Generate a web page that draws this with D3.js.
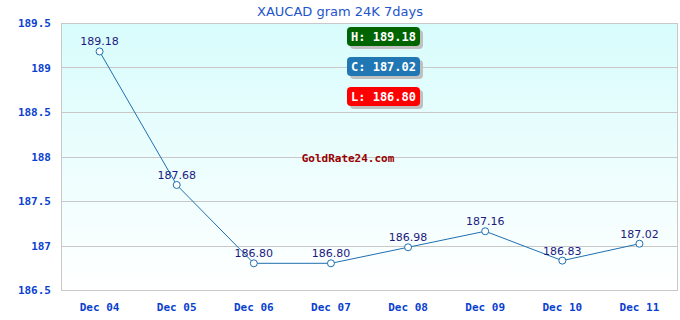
<!DOCTYPE html>
<html>
<head>
<meta charset="utf-8">
<script src="https://cdn.jsdelivr.net/npm/d3@7"></script>
<style>
  body { margin: 0; background: #fff; }
  .tick text { font-family: "DejaVu Sans Mono", monospace; font-weight: bold; font-size: 11px; fill: #0a3fd0; }
</style>
</head>
<body>
<svg id="chart" width="680" height="320"></svg>
<script>
(function () {
  // chart data
  var days = ["Dec 04", "Dec 05", "Dec 06", "Dec 07", "Dec 08", "Dec 09", "Dec 10", "Dec 11"];
  var prices = [189.18, 187.68, 186.80, 186.80, 186.98, 187.16, 186.83, 187.02];
  var yTicks = [186.5, 187, 187.5, 188, 188.5, 189, 189.5];
  var badges = [
    {label: "H: 189.18", color: "#006400"},
    {label: "C: 187.02", color: "#2077b4"},
    {label: "L: 186.80", color: "#ff0000"}
  ];

  var svg = d3.select("#chart");
  var margin = {top: 23, right: 2, bottom: 30, left: 61};
  var width = +svg.attr("width") - margin.left - margin.right;
  var height = +svg.attr("height") - margin.top - margin.bottom;

  var defs = svg.append("defs");
  var grad = defs.append("linearGradient")
    .attr("id", "bg").attr("x1", 0).attr("y1", 0).attr("x2", 0).attr("y2", 1);
  grad.append("stop").attr("offset", "0%").attr("stop-color", "#d8fcfc");
  grad.append("stop").attr("offset", "100%").attr("stop-color", "#ffffff");

  svg.append("text")
    .attr("x", 340).attr("y", 16)
    .attr("text-anchor", "middle")
    .style("font-family", "DejaVu Sans, sans-serif")
    .style("font-size", "13px")
    .style("fill", "#2255cc")
    .text("XAUCAD gram 24K 7days");

  var g = svg.append("g")
    .attr("transform", "translate(" + margin.left + "," + margin.top + ")");

  var x = d3.scaleBand().domain(days).range([0, width]);
  var y = d3.scaleLinear().domain([186.5, 189.5]).range([height, 0]);

  g.append("rect")
    .attr("width", width).attr("height", height)
    .attr("fill", "url(#bg)");

  // grid lines
  g.selectAll(".grid")
    .data(yTicks)
    .enter().append("line")
    .attr("x1", 0).attr("x2", width)
    .attr("y1", function(d) { return Math.round(y(d)) + 0.5; })
    .attr("y2", function(d) { return Math.round(y(d)) + 0.5; })
    .attr("stroke", "#c8c8c8");

  g.append("line").attr("x1", 0.5).attr("x2", 0.5).attr("y1", 0).attr("y2", height).attr("stroke", "#c8c8c8");
  g.append("line").attr("x1", width - 0.5).attr("x2", width - 0.5).attr("y1", 0).attr("y2", height).attr("stroke", "#c8c8c8");

  var yAxis = g.append("g")
    .call(d3.axisLeft(y).tickValues(yTicks).tickSize(0).tickPadding(10).tickFormat(d3.format("")));
  yAxis.select(".domain").remove();

  var xAxis = g.append("g")
    .attr("transform", "translate(0," + height + ")")
    .call(d3.axisBottom(x).tickSize(0).tickPadding(13));
  xAxis.select(".domain").remove();

  // watermark
  g.append("text")
    .attr("x", 348 - margin.left).attr("y", 162 - margin.top)
    .attr("text-anchor", "middle")
    .style("font-family", "DejaVu Sans Mono, monospace")
    .style("font-weight", "bold")
    .style("font-size", "11px")
    .style("fill", "#990000")
    .text("GoldRate24.com");

  // badges
  var b = svg.selectAll(".badge")
    .data(badges)
    .enter().append("g")
    .attr("transform", function(d, i) { return "translate(347," + (27 + i * 30) + ")"; });
  b.append("rect")
    .attr("x", 3).attr("y", 3).attr("width", 73).attr("height", 19).attr("rx", 4)
    .attr("fill", "#c0c0c0");
  b.append("rect")
    .attr("width", 73).attr("height", 19).attr("rx", 4)
    .attr("fill", function(d) { return d.color; });
  b.append("text")
    .attr("x", 36.5).attr("y", 14)
    .attr("text-anchor", "middle")
    .style("font-family", "DejaVu Sans Mono, monospace")
    .style("font-weight", "bold")
    .style("font-size", "12px")
    .style("fill", "#fff")
    .text(function(d) { return d.label; });

  var line = d3.line()
    .x(function(d, i) { return x(days[i]) + x.bandwidth() / 2; })
    .y(function(d) { return y(d); });

  g.append("path")
    .datum(prices)
    .attr("fill", "none")
    .attr("stroke", "#1f6fb0")
    .attr("stroke-width", 1)
    .attr("d", line);

  g.selectAll(".pt")
    .data(prices)
    .enter().append("circle")
    .attr("cx", function(d, i) { return x(days[i]) + x.bandwidth() / 2; })
    .attr("cy", function(d) { return y(d); })
    .attr("r", 3.5)
    .attr("fill", "#fff")
    .attr("stroke", "#1f6fb0");

  g.selectAll(".lbl")
    .data(prices)
    .enter().append("text")
    .attr("x", function(d, i) { return x(days[i]) + x.bandwidth() / 2; })
    .attr("y", function(d) { return y(d) - 6; })
    .attr("text-anchor", "middle")
    .style("font-family", "DejaVu Sans, sans-serif")
    .style("font-size", "11px")
    .style("fill", "#1a1a80")
    .text(function(d) { return d.toFixed(2); });
}());
</script>
</body>
</html>
